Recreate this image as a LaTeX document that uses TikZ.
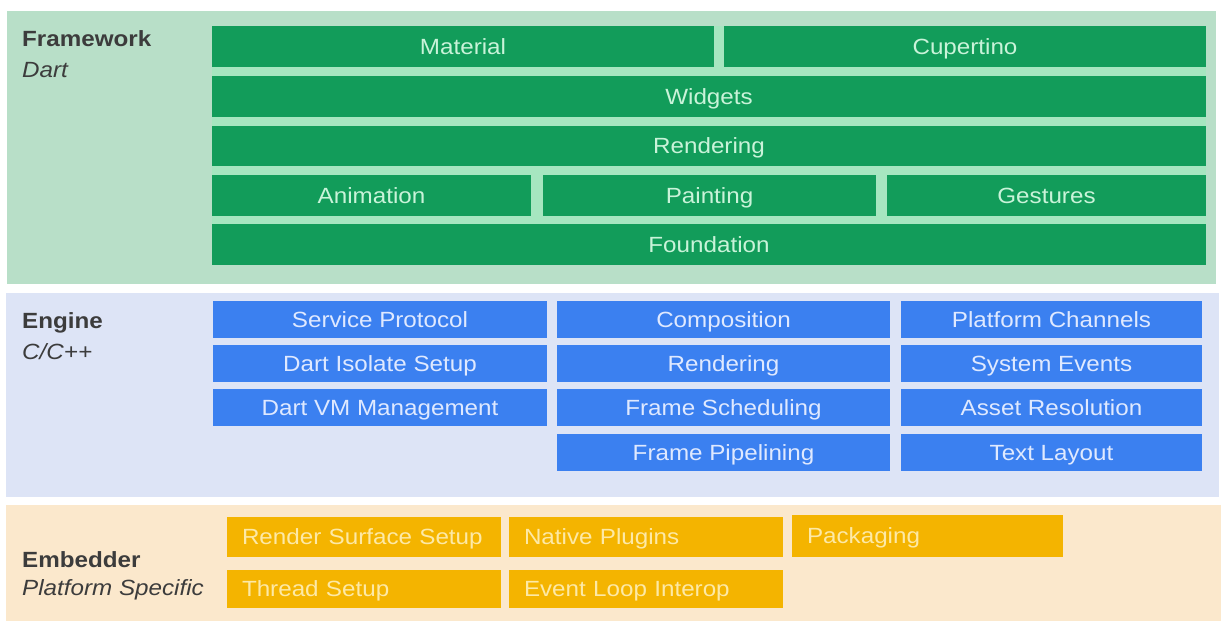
\documentclass[tikz,border=0pt]{standalone}
\usepackage{fontspec}
\setmainfont{Liberation Sans}[FakeStretch=1.1]
\definecolor{fwpanel}{HTML}{B8DFC8}
\definecolor{gbox}{HTML}{129C5A}
\definecolor{mint}{HTML}{A6E6C0}
\definecolor{gtext}{HTML}{C9F3D9}
\definecolor{enpanel}{HTML}{DDE4F6}
\definecolor{bbox}{HTML}{3B80F0}
\definecolor{btext}{HTML}{DFE9FF}
\definecolor{empanel}{HTML}{FBE8CC}
\definecolor{obox}{HTML}{F4B400}
\definecolor{otext}{HTML}{FDE9A6}
\definecolor{lbl}{HTML}{3C3C3C}
\tikzset{
  boxbase/.style={rectangle, inner sep=0pt, text height=15.75pt, text depth=0pt, font=\fontsize{22}{26}\selectfont},
  greenbox/.style={boxbase, fill=gbox, text=gtext, minimum height=41pt},
  bluebox/.style={boxbase, fill=bbox, text=btext, minimum height=37pt},
  orangebox/.style={boxbase, fill=obox, text=otext, inner xsep=15pt, align=left, minimum height=40pt},
  paneltitle/.style={anchor=base west, inner sep=0pt, text=lbl, font=\fontsize{22}{26}\selectfont\bfseries},
  panelsub/.style={anchor=base west, inner sep=0pt, text=lbl, font=\fontsize{22}{26}\selectfont\itshape}
}
\begin{document}
\begin{tikzpicture}[x=1pt,y=-1pt]
\useasboundingbox[fill=white] (0,0) rectangle (1221,623);
% panels
\fill[fwpanel] (7,11) rectangle (1216,284);
\fill[enpanel] (6,293) rectangle (1219,497);
\fill[empanel] (6,505) rectangle (1221,621);
% labels
\node[paneltitle] (fwt) at (22,47) {Framework};
\node[panelsub] (fws) at (22,78) {Dart};
\node[paneltitle] (ent) at (22,328) {Engine};
\node[panelsub] (ens) at (22,359) {C/C++};
\node[paneltitle] (emt) at (22,567) {Embedder};
\node[panelsub] (ems) at (22,595) {Platform Specific};
% framework
\fill[mint] (212,26) rectangle (1206,265);
\node[greenbox, minimum width=502pt] (material) at (463,46.5) {Material};
\node[greenbox, minimum width=482pt] (cupertino) at (965,46.5) {Cupertino};
\node[greenbox, minimum width=994pt] (widgets) at (709,96.5) {Widgets};
\node[greenbox, minimum width=994pt, minimum height=40pt] (frender) at (709,146) {Rendering};
\node[greenbox, minimum width=319pt] (animation) at (371.5,195.5) {Animation};
\node[greenbox, minimum width=333pt] (painting) at (709.5,195.5) {Painting};
\node[greenbox, minimum width=319pt] (gestures) at (1046.5,195.5) {Gestures};
\node[greenbox, minimum width=994pt] (foundation) at (709,244.5) {Foundation};
% engine
\node[bluebox, minimum width=334pt] (service) at (380,319.5) {Service Protocol};
\node[bluebox, minimum width=334pt] (isolate) at (380,363.5) {Dart Isolate Setup};
\node[bluebox, minimum width=334pt] (dartvm) at (380,407.5) {Dart VM Management};
\node[bluebox, minimum width=333pt] (composition) at (723.5,319.5) {Composition};
\node[bluebox, minimum width=333pt] (erender) at (723.5,363.5) {Rendering};
\node[bluebox, minimum width=333pt] (fsched) at (723.5,407.5) {Frame Scheduling};
\node[bluebox, minimum width=333pt] (fpipe) at (723.5,452.5) {Frame Pipelining};
\node[bluebox, minimum width=301pt] (pchan) at (1051.5,319.5) {Platform Channels};
\node[bluebox, minimum width=301pt] (sysev) at (1051.5,363.5) {System Events};
\node[bluebox, minimum width=301pt] (asset) at (1051.5,407.5) {Asset Resolution};
\node[bluebox, minimum width=301pt] (textlay) at (1051.5,452.5) {Text Layout};
% embedder
\node[orangebox, text width=244pt] (rss) at (364,537) {Render Surface Setup};
\node[orangebox, text width=244pt] (plugins) at (646,537) {Native Plugins};
\node[orangebox, text width=241pt, minimum height=42pt] (packaging) at (927.5,536) {Packaging};
\node[orangebox, text width=244pt, minimum height=38pt] (thread) at (364,589) {Thread Setup};
\node[orangebox, text width=244pt, minimum height=38pt] (evloop) at (646,589) {Event Loop Interop};
\end{tikzpicture}
\end{document}
